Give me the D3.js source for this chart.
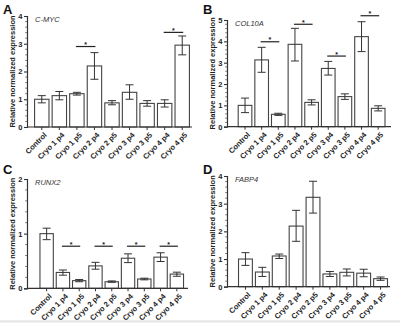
<!DOCTYPE html>
<html><head><meta charset="utf-8">
<script src="https://cdn.jsdelivr.net/npm/d3@7/dist/d3.min.js"></script>
<style>body{margin:0;background:#fff}svg{display:block}</style>
</head><body>
<svg id="c" width="400" height="323"></svg>
<script>
const categories = ["Control","Cryo 1 p4","Cryo 1 p5","Cryo 2 p4","Cryo 2 p5","Cryo 3 p4","Cryo 3 p5","Cryo 4 p4","Cryo 4 p5"];

const mycMean = [1.0, 1.13, 1.2, 2.2, 0.87, 1.25, 0.85, 0.85, 2.95];
const mycLow  = [0.87, 0.98, 1.15, 1.72, 0.8, 1.0, 0.75, 0.72, 2.6];
const mycHigh = [1.13, 1.28, 1.25, 2.68, 0.95, 1.52, 0.95, 0.98, 3.28];
const mycSig  = [["Cryo 1 p5","Cryo 2 p4",2.9],["Cryo 4 p4","Cryo 4 p5",3.41]];

const colMean = [1.0, 3.13, 0.58, 3.86, 1.14, 2.73, 1.41, 4.22, 0.86];
const colLow  = [0.66, 2.55, 0.53, 3.08, 1.02, 2.42, 1.28, 3.52, 0.74];
const colHigh = [1.34, 3.72, 0.63, 4.61, 1.26, 3.06, 1.54, 4.92, 0.98];
const colSig  = [["Cryo 1 p4","Cryo 1 p5",3.98],["Cryo 2 p4","Cryo 2 p5",4.8],["Cryo 3 p4","Cryo 3 p5",3.31],["Cryo 4 p4","Cryo 4 p5",5.2]];

const runxMean = [1.0, 0.29, 0.14, 0.41, 0.12, 0.55, 0.17, 0.57, 0.26];
const runxLow  = [0.89, 0.24, 0.12, 0.35, 0.11, 0.47, 0.155, 0.49, 0.22];
const runxHigh = [1.1, 0.335, 0.16, 0.475, 0.135, 0.63, 0.185, 0.65, 0.295];
const runxSig  = [["Cryo 1 p4","Cryo 1 p5",0.77],["Cryo 2 p4","Cryo 2 p5",0.77],["Cryo 3 p4","Cryo 3 p5",0.77],["Cryo 4 p4","Cryo 4 p5",0.77]];

const fabMean = [1.0, 0.53, 1.11, 2.19, 3.23, 0.46, 0.52, 0.49, 0.29];
const fabLow  = [0.77, 0.37, 1.02, 1.64, 2.66, 0.37, 0.39, 0.36, 0.23];
const fabHigh = [1.23, 0.7, 1.18, 2.76, 3.81, 0.55, 0.64, 0.63, 0.35];
const fabSig  = [];

const yTicksA = [0,1,2,3,4];
const yTicksB = [0,1,2,3,4,5];
const yTicksC = [0,1,2];
const yTicksD = [0,1,2,3,4];

const panels = [
  {letter:"A", gene:"C-MYC", mean:mycMean, low:mycLow, high:mycHigh, sig:mycSig, ticks:yTicksA, ymax:4,
   ax:27, x0:33, x1:191, xEnd:192, yTop:16, yBot:127, lx:3, ly:14},
  {letter:"B", gene:"COL10A", mean:colMean, low:colLow, high:colHigh, sig:colSig, ticks:yTicksB, ymax:5,
   ax:227, x0:236.7, x1:386.5, xEnd:391, yTop:20, yBot:126.7, lx:203, ly:14},
  {letter:"C", gene:"RUNX2", mean:runxMean, low:runxLow, high:runxHigh, sig:runxSig, ticks:yTicksC, ymax:2,
   ax:27, x0:38.5, x1:185, xEnd:188, yTop:179, yBot:288.3, lx:3, ly:174},
  {letter:"D", gene:"FABP4", mean:fabMean, low:fabLow, high:fabHigh, sig:fabSig, ticks:yTicksD, ymax:4,
   ax:227, x0:237, x1:389, xEnd:390, yTop:176, yBot:286.7, lx:203, ly:174}
];

const svg = d3.select("#c");
const FONT = "Liberation Sans, Arial, sans-serif";

// faint frame line at bottom
svg.append("rect").attr("x", 0).attr("y", 321).attr("width", 400).attr("height", 2).attr("fill", "#f2f2f2");
svg.append("line").attr("x1", 0).attr("x2", 400).attr("y1", 321).attr("y2", 321).attr("stroke", "#d8d8d8").attr("stroke-width", 1);

panels.forEach(p => {
  const g = svg.append("g");
  const x = d3.scaleBand().domain(categories).range([p.x0, p.x1]).paddingInner(0.18).paddingOuter(0.09);
  const y = d3.scaleLinear().domain([0, p.ymax]).range([p.yBot, p.yTop]);

  g.append("text").attr("x", p.lx).attr("y", p.ly).text(p.letter)
    .attr("font-family", FONT).attr("font-weight", "bold").attr("font-size", 13).attr("fill", "#111");

  g.selectAll("rect.bar").data(categories).enter().append("rect")
    .attr("x", d => x(d)).attr("width", x.bandwidth())
    .attr("y", (d,i) => y(p.mean[i])).attr("height", (d,i) => y(0) - y(p.mean[i]))
    .attr("fill", "#fff").attr("stroke", "#444").attr("stroke-width", 1.1);

  const cap = 4;
  categories.forEach((c,i) => {
    const cx = x(c) + x.bandwidth()/2;
    g.append("line").attr("x1", cx).attr("x2", cx).attr("y1", y(p.low[i])).attr("y2", y(p.high[i]))
      .attr("stroke", "#333").attr("stroke-width", 1);
    [p.low[i], p.high[i]].forEach(v => {
      g.append("line").attr("x1", cx-cap).attr("x2", cx+cap).attr("y1", y(v)).attr("y2", y(v))
        .attr("stroke", "#333").attr("stroke-width", 1);
    });
  });

  p.sig.forEach(s => {
    const xa = x(s[0]) + x.bandwidth()/2 - 1, xb = x(s[1]) + x.bandwidth()/2 + 1;
    g.append("line").attr("x1", xa).attr("x2", xb).attr("y1", y(s[2])).attr("y2", y(s[2]))
      .attr("stroke", "#222").attr("stroke-width", 1.2);
    g.append("text").attr("x", (xa+xb)/2).attr("y", y(s[2]) + 0.5).attr("text-anchor", "middle")
      .attr("font-family", FONT).attr("font-weight", "bold").attr("font-size", 7).attr("fill", "#222").text("*");
  });

  const yAxis = d3.axisLeft(y).tickValues(p.ticks).tickFormat(d3.format("d")).tickSize(3).tickPadding(1.5);
  const ya = g.append("g").attr("transform", `translate(${p.ax},0)`).call(yAxis);
  ya.select(".domain").attr("stroke", "#333").attr("stroke-width", 1.2);
  ya.selectAll(".tick line").attr("stroke", "#333").attr("stroke-width", 1.1);
  ya.selectAll(".tick text").attr("font-family", FONT).attr("font-weight", "bold").attr("font-size", 7.5).attr("fill", "#222");
  const minor = d3.range(0, p.ymax + 0.001, 0.2).filter(v => Math.abs(v - Math.round(v)) > 0.01);
  g.selectAll("line.minor").data(minor).enter().append("line")
    .attr("x1", p.ax - 1.8).attr("x2", p.ax).attr("y1", d => y(d)).attr("y2", d => y(d))
    .attr("stroke", "#555").attr("stroke-width", 0.8);

  g.append("line").attr("x1", p.ax).attr("x2", p.xEnd).attr("y1", p.yBot).attr("y2", p.yBot)
    .attr("stroke", "#333").attr("stroke-width", 1.2);
  const xAxis = d3.axisBottom(x).tickSize(3).tickPadding(2);
  const xa = g.append("g").attr("transform", `translate(0,${p.yBot})`).call(xAxis);
  xa.select(".domain").remove();
  xa.selectAll(".tick line").attr("stroke", "#333").attr("stroke-width", 1);
  xa.selectAll(".tick text")
    .attr("font-family", FONT).attr("font-weight", "bold").attr("font-size", 7.5).attr("fill", "#222")
    .attr("text-anchor", "end").attr("dy", 0)
    .attr("transform", "translate(2,5) rotate(-45)");

  g.append("text").attr("transform", `translate(${p.ax - 12},${(p.yTop + p.yBot)/2}) rotate(-90)`)
    .attr("text-anchor", "middle").attr("font-family", FONT).attr("font-weight", "bold").attr("font-size", 7.5)
    .attr("fill", "#222").text("Relative normalized expression");

  g.append("text").attr("x", p.ax + 8).attr("y", p.yTop + 6).text(p.gene)
    .attr("font-family", FONT).attr("font-style", "italic").attr("font-size", 7.5).attr("fill", "#333");
});
</script>
</body></html>
